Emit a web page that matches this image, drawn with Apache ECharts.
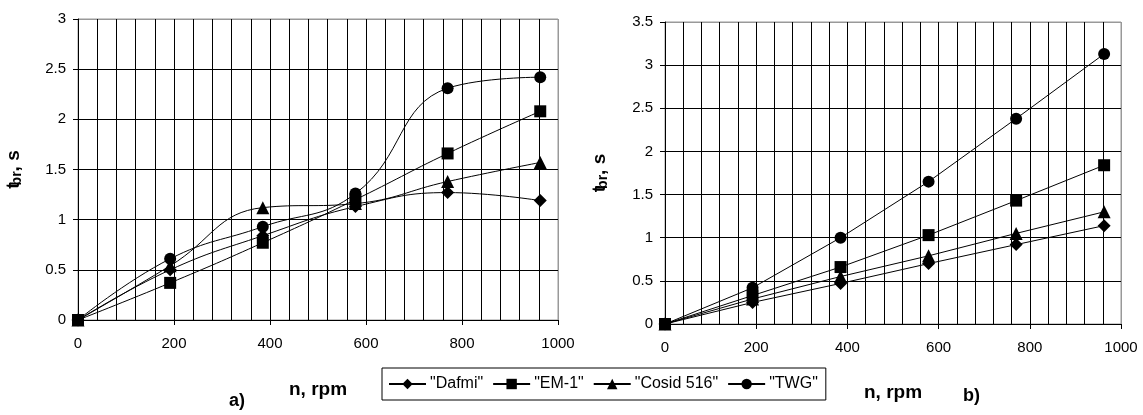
<!DOCTYPE html>
<html>
<head>
<meta charset="utf-8">
<script src="https://cdn.jsdelivr.net/npm/echarts@6/dist/echarts.min.js"></script>
<style>html,body{margin:0;padding:0;background:#fff;}#c{width:1143px;height:415px;}</style>
</head>
<body>
<div id="c"></div>
<script>
// speed, rpm
const rpm = [0, 192, 385, 578, 770, 963];
const seriesNames = ['"Dafmi"', '"EM-1"', '"Cosid 516"', '"TWG"'];
const symbols = ['diamond', 'rect', 'triangle', 'circle'];
const symbolSizes = [13, 12, 13, 12];

// chart a) braking time, s
const aDafmi = [0, 0.50, 0.84, 1.13, 1.27, 1.19];
const aEM1   = [0, 0.37, 0.77, 1.20, 1.66, 2.08];
const aCosid = [0, 0.54, 1.12, 1.16, 1.38, 1.57];
const aTWG   = [0, 0.61, 0.93, 1.26, 2.31, 2.42];

// chart b) braking time, s
const bDafmi = [0, 0.25, 0.47, 0.70, 0.92, 1.14];
const bEM1   = [0, 0.33, 0.66, 1.03, 1.43, 1.84];
const bCosid = [0, 0.29, 0.55, 0.79, 1.05, 1.30];
const bTWG   = [0, 0.42, 1.00, 1.65, 2.38, 3.13];

const xTicks = [0, 200, 400, 600, 800, 1000];

const FONT = "'Liberation Sans', Arial, sans-serif";
const pair = (ys) => rpm.map((x, i) => [x, ys[i]]);

function xAxis(gridIndex, nameGap) {
  return {
    type: 'value', gridIndex, min: xTicks[0], max: xTicks[xTicks.length - 1], interval: 200,
    name: 'n, rpm', nameLocation: 'middle', nameGap,
    nameTextStyle: { fontFamily: FONT, fontWeight: 'bold', fontSize: 19, color: '#000' },
    axisLine: { show: true, lineStyle: { color: '#000', width: 1 } },
    axisTick: { show: true, length: 5, inside: false, lineStyle: { color: '#000' } },
    axisLabel: { fontFamily: FONT, fontSize: 15, color: '#000', margin: 16, formatter: (v) => String(v) },
    splitLine: { show: true, lineStyle: { color: ['#000', '#000', '#000', '#000', '#000', '#999'], width: 1 } },
    minorTick: { show: false, splitNumber: 5 },
    minorSplitLine: { show: true, lineStyle: { color: '#000', width: 1 } }
  };
}
function yAxis(gridIndex, max, nameGap) {
  const n = Math.round(max / 0.5) + 1;
  const cols = [];
  for (let i = 0; i < n; i++) cols.push(i === n - 1 ? '#999' : '#000');
  return {
    type: 'value', gridIndex, min: 0, max, interval: 0.5,
    name: '{t|t}{s|br}{t|, s}', nameLocation: 'middle', nameGap,
    nameTextStyle: {
      rich: {
        t: { fontFamily: FONT, fontWeight: 'bold', fontSize: 19, color: '#000' },
        s: { fontFamily: FONT, fontWeight: 'bold', fontSize: 14, color: '#000', padding: [6, 0, 0, -3] }
      }
    },
    axisLine: { show: true, lineStyle: { color: '#000', width: 1 } },
    axisTick: { show: true, length: 5, inside: false, lineStyle: { color: '#000' } },
    axisLabel: { fontFamily: FONT, fontSize: 15, color: '#000', margin: 12, formatter: (v) => String(v) },
    splitLine: { show: true, lineStyle: { color: cols, width: 1 } }
  };
}

const aData = [aDafmi, aEM1, aCosid, aTWG];
const bData = [bDafmi, bEM1, bCosid, bTWG];
const series = [];
seriesNames.forEach((nm, i) => {
  series.push({
    name: nm, type: 'line', xAxisIndex: 0, yAxisIndex: 0, data: pair(aData[i]),
    smooth: 0.45, symbol: symbols[i], symbolSize: symbolSizes[i], showAllSymbol: true,
    lineStyle: { color: '#000', width: 1 }, itemStyle: { color: '#000' }, animation: false, z: 3
  });
});
seriesNames.forEach((nm, i) => {
  series.push({
    name: nm, type: 'line', xAxisIndex: 1, yAxisIndex: 1, data: pair(bData[i]),
    smooth: false, symbol: symbols[i], symbolSize: symbolSizes[i], showAllSymbol: true,
    lineStyle: { color: '#000', width: 1 }, itemStyle: { color: '#000' }, animation: false, z: 3
  });
});

const chart = echarts.init(document.getElementById('c'), null, { renderer: 'canvas' });
chart.setOption({
  backgroundColor: '#fff',
  animation: false,
  grid: [
    { left: 78, right: 585, top: 19, bottom: 95, show: true, borderColor: '#999', borderWidth: 1, backgroundColor: 'transparent', containLabel: false, outerBoundsMode: 'none' },
    { left: 665, right: 22, top: 22, bottom: 91, show: true, borderColor: '#999', borderWidth: 1, backgroundColor: 'transparent', containLabel: false, outerBoundsMode: 'none' }
  ],
  xAxis: [xAxis(0, 60), xAxis(1, 59)],
  yAxis: [yAxis(0, 3, 54), yAxis(1, 3.5, 55)],
  legend: {
    data: seriesNames, left: 382, top: 368, orient: 'horizontal',
    itemWidth: 37, itemHeight: 13, itemGap: 9,
    padding: [8, 8, 8, 6], borderColor: '#000', borderWidth: 1, borderRadius: 0,
    backgroundColor: '#fff',
    textStyle: { fontFamily: FONT, fontSize: 16, color: '#000', padding: [0, 0, 0, -1] }
  },
  graphic: [
    { type: 'text', left: 229, top: 392, style: { text: 'a)', font: "bold 18px 'Liberation Sans', Arial", fill: '#000' } },
    { type: 'text', left: 963, top: 387, style: { text: 'b)', font: "bold 18px 'Liberation Sans', Arial", fill: '#000' } }
  ],
  series
});
</script>
</body>
</html>
